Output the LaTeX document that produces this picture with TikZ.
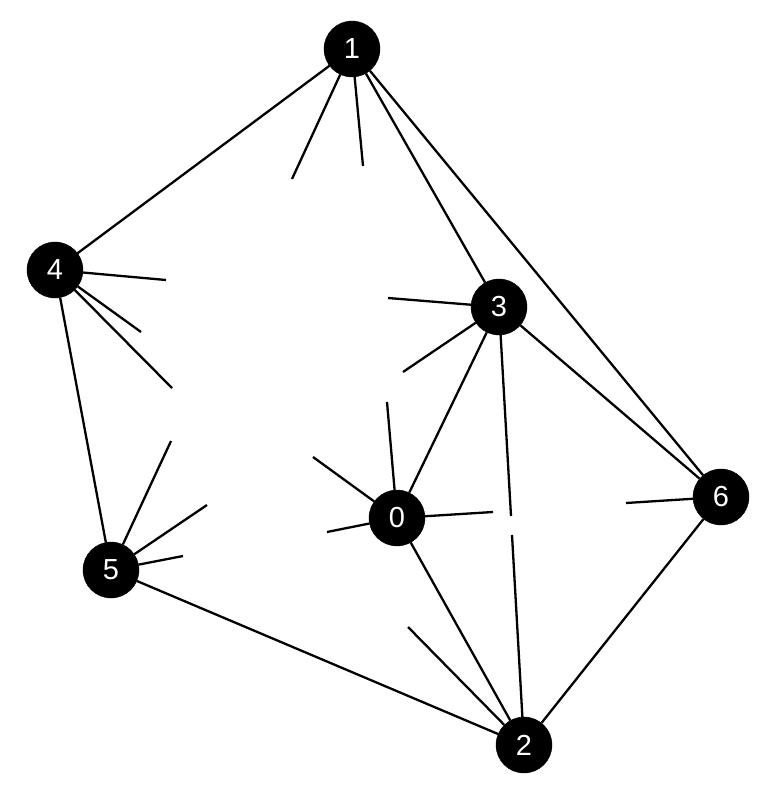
\documentclass[tikz,border=0pt]{standalone}
\usepackage{fontspec}
\setmainfont{Liberation Sans}
\begin{document}
\begin{tikzpicture}[x=1pt,y=-1pt,
  vtx/.style={circle,fill=black,draw=black,minimum size=56pt,inner sep=0pt,
    text=white,font=\fontsize{29}{32}\selectfont},
  edge/.style={line width=2.3pt,black}]
\useasboundingbox (0,0) rectangle (768,792);
% nodes
\node[vtx] (n1) at (352,49) {1};
\node[vtx] (n4) at (55,270) {4};
\node[vtx] (n3) at (499,307) {3};
\node[vtx] (n6) at (721,497) {6};
\node[vtx] (n0) at (397,518) {0};
\node[vtx] (n5) at (111,570) {5};
\node[vtx] (n2) at (524,745) {2};
% free ends of partial connectors
\coordinate (a1) at (292,179);
\coordinate (a2) at (363,166);
\coordinate (b1) at (166,280);
\coordinate (b2) at (141,332);
\coordinate (b3) at (172,388);
\coordinate (c1) at (388,298);
\coordinate (c2) at (403,372);
\coordinate (c3) at (511,516);
\coordinate (d1) at (387,402);
\coordinate (d2) at (313,457);
\coordinate (d3) at (327,532);
\coordinate (d4) at (493,512);
\coordinate (e1) at (171,441);
\coordinate (e2) at (207,505);
\coordinate (e3) at (183,556);
\coordinate (f1) at (626,503);
\coordinate (g1) at (408,627);
\coordinate (g2) at (512,535);
% full connectors
\draw[edge] (n1) -- (n4);
\draw[edge] (n1) -- (n3);
\draw[edge] (n1) -- (n6);
\draw[edge] (n4) -- (n5);
\draw[edge] (n3) -- (n0);
\draw[edge] (n3) -- (n6);
\draw[edge] (n0) -- (n2);
\draw[edge] (n6) -- (n2);
\draw[edge] (n5) -- (n2);
% partial connectors
\draw[edge] (n1) -- (a1);
\draw[edge] (n1) -- (a2);
\draw[edge] (n4) -- (b1);
\draw[edge] (n4) -- (b2);
\draw[edge] (n4) -- (b3);
\draw[edge] (n3) -- (c1);
\draw[edge] (n3) -- (c2);
\draw[edge] (n3) -- (c3);
\draw[edge] (n0) -- (d1);
\draw[edge] (n0) -- (d2);
\draw[edge] (n0) -- (d3);
\draw[edge] (n0) -- (d4);
\draw[edge] (n5) -- (e1);
\draw[edge] (n5) -- (e2);
\draw[edge] (n5) -- (e3);
\draw[edge] (n6) -- (f1);
\draw[edge] (n2) -- (g1);
\draw[edge] (n2) -- (g2);
\end{tikzpicture}
\end{document}
